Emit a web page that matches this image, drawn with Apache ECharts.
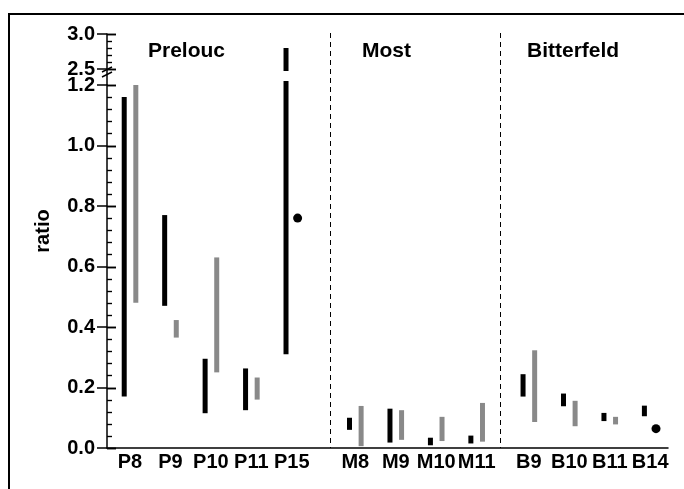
<!DOCTYPE html>
<html>
<head>
<meta charset="utf-8">
<script src="https://cdn.jsdelivr.net/npm/echarts@6/dist/echarts.min.js"></script>
<style>
  html, body { margin: 0; padding: 0; background: #fff; }
  #chart { width: 684px; height: 489px; }
</style>
</head>
<body>
<div id="chart"></div>
<script>
// Sample sites, grouped by location
const groupNames = ['Prelouc', 'Most', 'Bitterfeld'];
const categories = ['P8', 'P9', 'P10', 'P11', 'P15', 'M8', 'M9', 'M10', 'M11', 'B9', 'B10', 'B11', 'B14'];
const groupOf    = [0, 0, 0, 0, 0, 1, 1, 1, 1, 2, 2, 2, 2];

// Ratio ranges (black bars)
const blackLow  = [0.17, 0.47, 0.115, 0.125, 0.31, 0.06, 0.018, 0.009, 0.015, 0.17, 0.138, 0.089, 0.105];
const blackHigh = [1.16, 0.77, 0.295, 0.263, 2.80, 0.10, 0.13, 0.034, 0.041, 0.244, 0.18, 0.116, 0.14];
// Ratio ranges (grey bars)
const grayLow  = [0.48, 0.365, 0.25, 0.16, null, 0.006, 0.027, 0.023, 0.021, 0.086, 0.072, 0.078, null];
const grayHigh = [1.20, 0.423, 0.63, 0.233, null, 0.139, 0.125, 0.103, 0.149, 0.323, 0.156, 0.103, null];
// Single measurements (dots)
const pointValue = [null, null, null, null, 0.76, null, null, null, null, null, null, null, 0.064];

// Axis extents (lower and upper part of the broken axis)
const LOW_MIN = 0, LOW_MAX = 1.2, LOW_STEP = 0.2;
const UP_MIN = 2.5, UP_MAX = 3.0, UP_STEP = 0.5;
const MINOR_SPLIT = 5;

// Horizontal layout: axis units, one unit per site inside a group
const GROUP_START = [1, 6.57, 10.86];
const DIVIDERS = [5.944, 10.147];
const X_MIN = 0.431, X_MAX = 14.30;

const groupIndexCount = [0, 0, 0];
const positions = categories.map((c, i) => {
  const g = groupOf[i];
  const p = GROUP_START[g] + groupIndexCount[g];
  groupIndexCount[g] += 1;
  return p;
});

const FONT = "'Liberation Sans', Arial, Helvetica, sans-serif";
const BAR_W = 5;
const DX = 5.8;
const BLACK = '#000000';
const GREY = '#898989';

const LOWER = { left: 107, top: 85, width: 561, height: 363 };
const UPPER = { left: 107, top: 34, width: 561, height: 35 };
const FRAME = { left: 107, top: 33, width: 561, height: 415 };

function rangeRenderer(color, dx, yMin, yMax, overTop, underBottom) {
  return function (params, api) {
    const pos = api.value(0), lo = api.value(1), hi = api.value(2);
    if (hi < yMin || lo > yMax) return null;
    const x = api.coord([pos, yMin])[0] + dx;
    let yTop = api.coord([pos, Math.min(hi, yMax)])[1];
    if (hi > yMax) yTop -= overTop;
    let yBot = api.coord([pos, Math.max(lo, yMin)])[1];
    if (lo < yMin) yBot += underBottom;
    return {
      type: 'rect',
      shape: { x: x - BAR_W / 2, y: yTop, width: BAR_W, height: yBot - yTop },
      style: { fill: color }
    };
  };
}

// Inner tick marks (major ticks cross the axis, minor ticks sit inside)
function innerTicks(min, max, step) {
  const out = [];
  const n = Math.round((max - min) / step * MINOR_SPLIT);
  for (let k = 0; k <= n; k++) {
    out.push([X_MIN, min + k * step / MINOR_SPLIT, k % MINOR_SPLIT === 0 ? 1 : 0]);
  }
  return out;
}
function tickRenderer(params, api) {
  const p = api.coord([api.value(0), api.value(1)]);
  const major = api.value(2) === 1;
  const y = Math.round(p[1]) + 0.5;
  return {
    type: 'line',
    shape: { x1: p[0], y1: y, x2: p[0] + (major ? 9 : 5), y2: y },
    style: { stroke: BLACK, lineWidth: major ? 1.5 : 1.2 }
  };
}

const blackData = categories.map((c, i) => [positions[i], blackLow[i], blackHigh[i]]);
const grayData = categories
  .map((c, i) => grayLow[i] == null ? null : [positions[i], grayLow[i], grayHigh[i]])
  .filter(d => d);
const dotData = categories
  .map((c, i) => pointValue[i] == null ? null : [positions[i], pointValue[i]])
  .filter(d => d);

function labelAxis(gridIndex, min, max, step) {
  return {
    type: 'value', gridIndex, min, max, interval: step, position: 'left',
    axisLine: { show: true, onZero: false, lineStyle: { color: BLACK, width: 1.5 } },
    axisTick: { show: true, inside: false, length: 10, lineStyle: { color: BLACK, width: 1.5 } },
    axisLabel: {
      show: true, margin: 12, color: BLACK, fontFamily: FONT, fontWeight: 'bold', fontSize: 20,
      formatter: v => v.toFixed(1)
    },
    splitLine: { show: false }
  };
}

const chart = echarts.init(document.getElementById('chart'), null, { renderer: 'canvas' });

const option = {
  backgroundColor: '#ffffff',
  animation: false,
  grid: [UPPER, LOWER, FRAME],
  xAxis: [
    { type: 'value', gridIndex: 0, min: X_MIN, max: X_MAX, show: false },
    {
      type: 'value', gridIndex: 1, min: X_MIN, max: X_MAX,
      axisLine: { show: true, onZero: false, lineStyle: { color: BLACK, width: 1.5 } },
      axisTick: { show: false },
      splitLine: { show: false },
      axisLabel: {
        show: true, customValues: positions, margin: 4, color: BLACK,
        fontFamily: FONT, fontWeight: 'bold', fontSize: 20,
        formatter: v => {
          const i = positions.findIndex(p => Math.abs(p - v) < 1e-6);
          return i >= 0 ? categories[i] : '';
        }
      }
    },
    { type: 'value', gridIndex: 2, min: X_MIN, max: X_MAX, show: false }
  ],
  yAxis: [
    labelAxis(0, UP_MIN, UP_MAX, UP_STEP),
    labelAxis(1, LOW_MIN, LOW_MAX, LOW_STEP),
    { type: 'value', gridIndex: 2, min: 0, max: 1, show: false }
  ],
  series: [
    {
      name: 'dividers', type: 'custom', xAxisIndex: 2, yAxisIndex: 2,
      data: DIVIDERS.map(d => [d]),
      renderItem: function (params, api) {
        const top = api.coord([api.value(0), 1]);
        const bot = api.coord([api.value(0), 0]);
        return {
          type: 'line',
          shape: { x1: Math.round(top[0]) + 0.5, y1: top[1], x2: Math.round(bot[0]) + 0.5, y2: bot[1] },
          style: { stroke: BLACK, lineWidth: 1, lineDash: [5, 4] }
        };
      }
    },
    {
      name: 'upper ticks', type: 'custom', xAxisIndex: 0, yAxisIndex: 0, clip: false, z: 10,
      data: innerTicks(UP_MIN, UP_MAX, UP_STEP), renderItem: tickRenderer
    },
    {
      name: 'lower ticks', type: 'custom', xAxisIndex: 1, yAxisIndex: 1, clip: false, z: 10,
      data: innerTicks(LOW_MIN, LOW_MAX, LOW_STEP), renderItem: tickRenderer
    },
    {
      name: 'black upper', type: 'custom', xAxisIndex: 0, yAxisIndex: 0,
      data: blackData, renderItem: rangeRenderer(BLACK, -DX, UP_MIN, UP_MAX, 0, 2)
    },
    {
      name: 'black', type: 'custom', xAxisIndex: 1, yAxisIndex: 1,
      data: blackData, renderItem: rangeRenderer(BLACK, -DX, LOW_MIN, LOW_MAX, 4, 0)
    },
    {
      name: 'grey', type: 'custom', xAxisIndex: 1, yAxisIndex: 1,
      data: grayData, renderItem: rangeRenderer(GREY, DX, LOW_MIN, LOW_MAX, 4, 0)
    },
    {
      name: 'single', type: 'scatter', xAxisIndex: 1, yAxisIndex: 1,
      data: dotData, symbol: 'circle', symbolSize: 9, symbolOffset: [DX, 0],
      itemStyle: { color: BLACK, opacity: 1 }
    }
  ],
  graphic: [
    // outer frame
    { id: 'frame', type: 'rect', shape: { x: 9, y: 14, width: 720, height: 520 },
      style: { fill: 'transparent', stroke: BLACK, lineWidth: 2 }, silent: true, z: -1 },
    // axis line across the break
    { id: 'gap-line', type: 'line', shape: { x1: 107, y1: UPPER.top + UPPER.height, x2: 107, y2: LOWER.top },
      style: { stroke: BLACK, lineWidth: 1.5 }, silent: true },
    // break marks
    { id: 'break-a', type: 'line', shape: { x1: 102, y1: 72, x2: 112, y2: 67 },
      style: { stroke: BLACK, lineWidth: 1.5 }, silent: true },
    { id: 'break-b', type: 'line', shape: { x1: 102, y1: 77, x2: 112, y2: 72 },
      style: { stroke: BLACK, lineWidth: 1.5 }, silent: true },
    // axis title
    { id: 'ytitle', type: 'text', x: 43, y: 231, rotation: Math.PI / 2,
      style: { text: 'ratio', fill: BLACK, font: 'bold 20px ' + FONT, align: 'center', verticalAlign: 'middle' } },
    // group titles
    { id: 'g0', type: 'text', x: 148, y: 51,
      style: { text: groupNames[0], fill: BLACK, font: 'bold 21px ' + FONT, align: 'left', verticalAlign: 'middle' } },
    { id: 'g1', type: 'text', x: 362, y: 51,
      style: { text: groupNames[1], fill: BLACK, font: 'bold 21px ' + FONT, align: 'left', verticalAlign: 'middle' } },
    { id: 'g2', type: 'text', x: 527, y: 51,
      style: { text: groupNames[2], fill: BLACK, font: 'bold 21px ' + FONT, align: 'left', verticalAlign: 'middle' } }
  ]
};

chart.setOption(option);

// Inner tick marks again as overlay elements, placed through the axis scales
const tickEls = [];
[[0, UP_MIN, UP_MAX, UP_STEP], [1, LOW_MIN, LOW_MAX, LOW_STEP]].forEach(([gi, mn, mx, st]) => {
  innerTicks(mn, mx, st).forEach((t, k) => {
    const p = chart.convertToPixel({ xAxisIndex: gi, yAxisIndex: gi }, [t[0], t[1]]);
    if (!p) return;
    const y = Math.round(p[1]) + 0.5;
    tickEls.push({
      id: 'tick-' + gi + '-' + k, type: 'line', z: 50, silent: true,
      shape: { x1: p[0], y1: y, x2: p[0] + (t[2] ? 9 : 5), y2: y },
      style: { stroke: BLACK, lineWidth: t[2] ? 1.5 : 1.2 }
    });
  });
});
chart.setOption({ graphic: tickEls });
</script>
</body>
</html>
